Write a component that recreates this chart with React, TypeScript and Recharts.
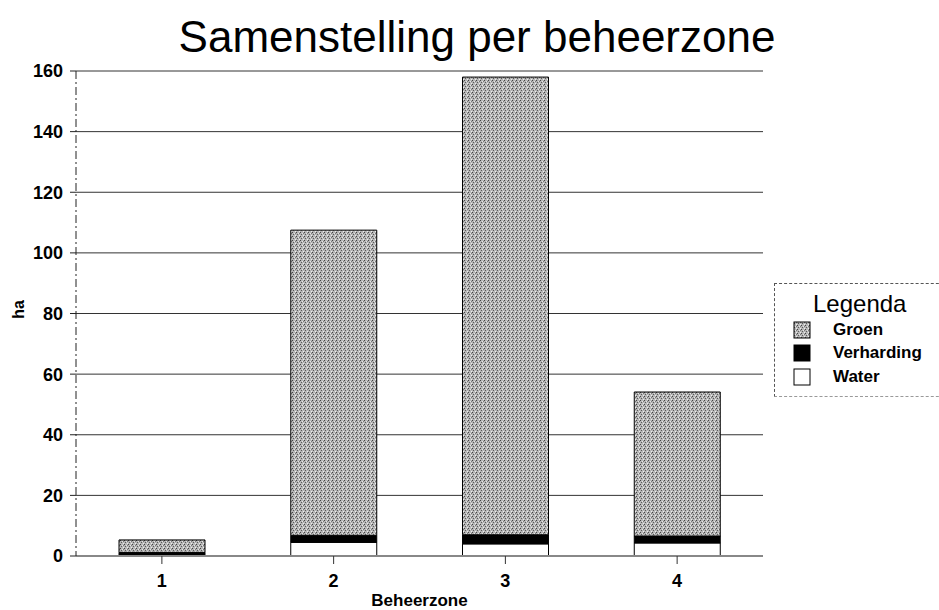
import React from 'react';
import { BarChart, Bar, XAxis, YAxis, CartesianGrid } from 'recharts';

const zones = ['1', '2', '3', '4'];
const water = [0.2, 4.5, 4, 4.3];
const verharding = [1, 2.3, 3, 2.3];
const groen = [4.1, 100.7, 151, 47.5];
const yTicks = [0, 20, 40, 60, 80, 100, 120, 140, 160];

const data = zones.map((zone, i) => ({
  zone,
  water: water[i],
  verharding: verharding[i],
  groen: groen[i],
}));

const font = '"Liberation Sans", Arial, Helvetica, sans-serif';

const legendItems = [
  { name: 'Groen', fill: 'url(#groenDots)' },
  { name: 'Verharding', fill: '#000' },
  { name: 'Water', fill: '#fff' },
];

const LegendBox: React.FC = () => (
  <div
    style={{
      position: 'absolute',
      left: 774,
      top: 283,
      width: 180,
      height: 114,
      borderLeft: '1px dashed #555',
      borderTop: '1px dashed #555',
      borderBottom: '1px dashed #999',
      fontFamily: font,
      boxSizing: 'border-box',
    }}
  >
    <div style={{ fontSize: 24, lineHeight: '28px', marginTop: 6, marginLeft: 38 }}>Legenda</div>
    {legendItems.map((item) => (
      <div key={item.name} style={{ display: 'flex', alignItems: 'center', height: 23.5, marginLeft: 18 }}>
        <svg width={18} height={18} style={{ marginRight: 22 }}>
          <rect x={1} y={1} width={16} height={16} fill={item.fill} stroke="#000" strokeWidth={1} />
        </svg>
        <span style={{ fontSize: 17, fontWeight: 'bold' }}>{item.name}</span>
      </div>
    ))}
  </div>
);

const App: React.FC = () => {
  return (
    <div style={{ position: 'absolute', left: 0, top: 0, width: 939, height: 610, background: '#fff' }}>
      <div
        style={{
          position: 'absolute',
          left: 0,
          top: 15,
          width: 954,
          textAlign: 'center',
          fontFamily: font,
          fontSize: 44,
          lineHeight: '44px',
          color: '#000',
        }}
      >
        Samenstelling per beheerzone
      </div>
      <BarChart
        width={939}
        height={610}
        data={data}
        margin={{ top: 71, right: 176, bottom: 0, left: 0 }}
        barSize={86}
      >
        <defs>
          <pattern id="groenDots" width="4" height="4" patternUnits="userSpaceOnUse">
            <rect width="4" height="4" fill="#b6b6b6" />
            <rect x="0" y="0" width="1" height="1" fill="#444" />
            <rect x="2" y="1" width="1" height="1" fill="#e6e6e6" />
            <rect x="1" y="2" width="1" height="1" fill="#5a5a5a" />
            <rect x="3" y="3" width="1" height="1" fill="#eeeeee" />
            <rect x="3" y="1" width="1" height="1" fill="#7a7a7a" />
          </pattern>
        </defs>
        <CartesianGrid vertical={false} stroke="#333" />
        <XAxis
          dataKey="zone"
          height={54}
          axisLine={{ stroke: '#888', strokeWidth: 2 }}
          tickLine={{ stroke: '#333' }}
          tickSize={8}
          tickMargin={10}
          tick={{ fill: '#000', fontSize: 18, fontWeight: 'bold', fontFamily: font }}
          label={{
            value: 'Beheerzone',
            position: 'insideBottom',
            offset: 4,
            fill: '#000',
            fontSize: 17,
            fontWeight: 'bold',
            fontFamily: font,
          }}
        />
        <YAxis
          width={76}
          domain={[0, 160]}
          ticks={yTicks}
          interval={0}
          axisLine={{ stroke: '#222', strokeDasharray: '8 3 2 3' }}
          tickLine={{ stroke: '#222' }}
          tickSize={6}
          tickMargin={7}
          tick={{ fill: '#000', fontSize: 18, fontWeight: 'bold', fontFamily: font }}
          label={({ viewBox }: any) => (
            <text
              x={viewBox.x + 18}
              y={viewBox.y + viewBox.height / 2 - 4}
              transform={`rotate(-90 ${viewBox.x + 18} ${viewBox.y + viewBox.height / 2 - 4})`}
              textAnchor="middle"
              dominantBaseline="central"
              fontFamily={font}
              fontSize={16}
              fontWeight="bold"
              fill="#000"
            >
              ha
            </text>
          )}
        />
        <Bar dataKey="water" name="Water" stackId="a" fill="#fff" stroke="#000" strokeWidth={1} isAnimationActive={false} />
        <Bar dataKey="verharding" name="Verharding" stackId="a" fill="#000" stroke="#000" strokeWidth={1} isAnimationActive={false} />
        <Bar dataKey="groen" name="Groen" stackId="a" fill="url(#groenDots)" stroke="#000" strokeWidth={1} isAnimationActive={false} />
      </BarChart>
      <LegendBox />
    </div>
  );
};

export default App;
